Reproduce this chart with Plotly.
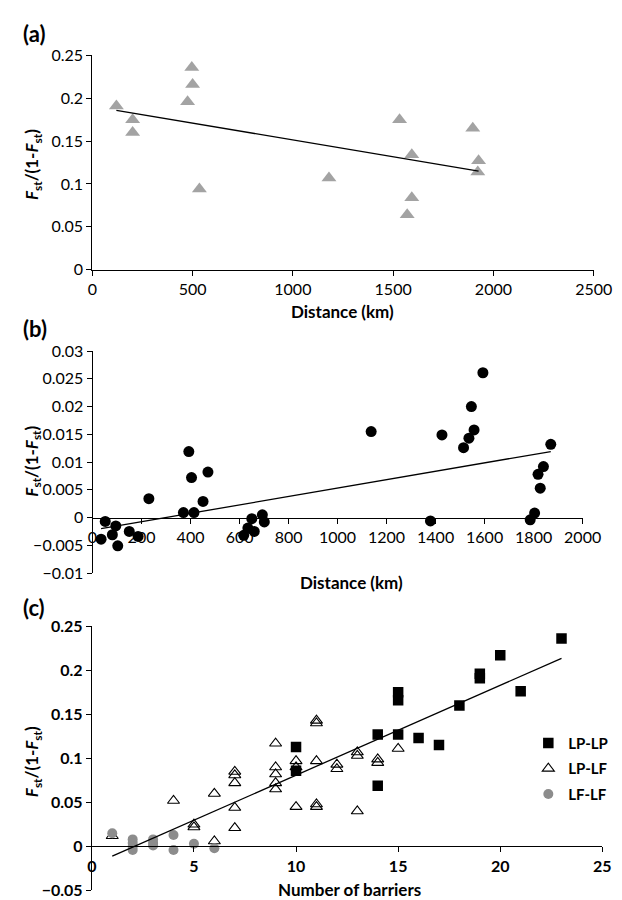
import plotly.graph_objects as go

# ---------------- data ----------------
# panel (a)
a_dist = [120, 201, 201, 475, 496, 500, 534, 1180, 1532, 1570, 1593, 1593, 1897, 1922, 1926]
a_fst = [0.191, 0.175, 0.160, 0.196, 0.236, 0.216, 0.094, 0.107, 0.175, 0.064, 0.084, 0.134, 0.165, 0.114, 0.127]
a_trend_x = [120, 1926]
a_trend_y = [0.186, 0.115]
a_xticks = [0, 500, 1000, 1500, 2000, 2500]
a_yticks = [0, 0.05, 0.1, 0.15, 0.2, 0.25]

# panel (b)
b_dist = [35, 52, 81, 95, 103, 150, 186, 230, 371, 393, 404, 414, 451, 471,
          617, 634, 650, 660, 693, 701, 1137, 1379, 1426, 1514, 1536, 1546, 1557,
          1593, 1786, 1804, 1818, 1827, 1840, 1870]
b_fst = [-0.0039, -0.0007, -0.0031, -0.0015, -0.0051, -0.0025, -0.0034, 0.0034,
         0.0009, 0.0119, 0.0072, 0.0009, 0.0029, 0.0082, -0.0032, -0.0019, -0.0002,
         -0.0025, 0.0005, -0.0008, 0.0155, -0.0006, 0.0149, 0.0126, 0.0143, 0.0200,
         0.0158, 0.0261, -0.0004, 0.0008, 0.0078, 0.0053, 0.0092, 0.0132]
b_trend_x = [35, 1870]
b_trend_y = [-0.0020, 0.0119]
b_xticks = [0, 200, 400, 600, 800, 1000, 1200, 1400, 1600, 1800, 2000]
b_yticks = [-0.01, -0.005, 0, 0.005, 0.01, 0.015, 0.02, 0.025, 0.03]

# panel (c)
lplp_x = [10, 10, 14, 14, 15, 15, 15, 16, 17, 18, 19, 19, 20, 21, 23]
lplp_y = [0.113, 0.086, 0.127, 0.069, 0.127, 0.175, 0.166, 0.123, 0.115, 0.160,
          0.196, 0.191, 0.217, 0.176, 0.236]
lplf_x = [1, 4, 5, 5, 6, 6, 7, 7, 7, 7, 7, 9, 9, 9, 9, 9, 10, 10, 10,
          11, 11, 11, 11, 11, 12, 12, 13, 13, 13, 14, 14, 15]
lplf_y = [0.012, 0.052, 0.025, 0.022, 0.060, 0.006, 0.085, 0.081, 0.072, 0.044, 0.021,
          0.117, 0.090, 0.082, 0.072, 0.065, 0.097, 0.090, 0.045,
          0.143, 0.140, 0.097, 0.048, 0.045, 0.093, 0.088, 0.107, 0.103, 0.040,
          0.099, 0.095, 0.111]
lflf_x = [1, 2, 2, 2, 2, 3, 3, 3, 4, 4, 5, 6]
lflf_y = [0.015, 0.008, 0.004, 0.000, -0.004, 0.008, 0.004, 0.001, 0.013, -0.004, 0.003, -0.002]
c_trend_x = [1, 23]
c_trend_y = [-0.011, 0.2135]
c_xticks = [0, 5, 10, 15, 20, 25]
c_yticks = [-0.05, 0, 0.05, 0.1, 0.15, 0.2, 0.25]
series_names = ["LP-LP", "LP-LF", "LF-LF"]

# ---------------- layout helpers ----------------
W, H = 622, 900
FONT = "Lato"


def fx(p):
    return p / W


def fy(p):
    return 1 - p / H


def fmt(v):
    s = ("%g" % v)
    return s.replace("-", "\u2212")


GREY_A = "#a3a3a3"
GREY_C = "#8c8c8c"

fig = go.Figure()

# (a)
fig.add_trace(go.Scatter(x=a_dist, y=a_fst, mode="markers", xaxis="x", yaxis="y",
                         marker=dict(symbol="triangle-up", size=13, color=GREY_A),
                         showlegend=False))
fig.add_trace(go.Scatter(x=a_trend_x, y=a_trend_y, mode="lines", xaxis="x", yaxis="y",
                         line=dict(color="black", width=1.3), showlegend=False))

# (b)
fig.add_trace(go.Scatter(x=b_dist, y=b_fst, mode="markers", xaxis="x2", yaxis="y2",
                         marker=dict(symbol="circle", size=11, color="black"),
                         showlegend=False))
fig.add_trace(go.Scatter(x=b_trend_x, y=b_trend_y, mode="lines", xaxis="x2", yaxis="y2",
                         line=dict(color="black", width=1.3), showlegend=False))

# (c)
fig.add_trace(go.Scatter(x=lplf_x, y=lplf_y, mode="markers", xaxis="x3", yaxis="y3",
                         name=series_names[1], legendgroup="g2", legendrank=2,
                         marker=dict(symbol="triangle-up-open", size=10.5, color="black",
                                     line=dict(width=1.1, color="black"))))
fig.add_trace(go.Scatter(x=lplp_x, y=lplp_y, mode="markers", xaxis="x3", yaxis="y3",
                         name=series_names[0], legendgroup="g1", legendrank=1,
                         marker=dict(symbol="square", size=10.5, color="black")))
fig.add_trace(go.Scatter(x=lflf_x, y=lflf_y, mode="markers", xaxis="x3", yaxis="y3",
                         name=series_names[2], legendgroup="g3", legendrank=3,
                         marker=dict(symbol="circle", size=10, color=GREY_C)))
fig.add_trace(go.Scatter(x=c_trend_x, y=c_trend_y, mode="lines", xaxis="x3", yaxis="y3",
                         line=dict(color="black", width=1.3), showlegend=False))

TS = 16
tick_norm = dict(family=FONT, size=TS, color="black")
tick_bold = dict(family=FONT, size=TS, color="black", weight="bold")

common = dict(showline=True, linecolor="black", linewidth=1, ticks="outside",
              ticklen=5, tickcolor="black", showgrid=False, zeroline=False)

fig.update_layout(
    width=W, height=H,
    margin=dict(l=0, r=0, t=0, b=0),
    paper_bgcolor="white", plot_bgcolor="white",
    font=dict(family=FONT, color="black"),
    xaxis=dict(domain=[fx(82.5), fx(604)], range=[0, 2500], anchor="y",
               tickvals=a_xticks, ticktext=[fmt(v) for v in a_xticks],
               tickfont=tick_norm, **common),
    yaxis=dict(domain=[fy(257), fy(38.3)], range=[0, 0.25], anchor="x",
               tickvals=a_yticks, ticktext=[fmt(v) for v in a_yticks],
               tickfont=tick_norm, **common),
    xaxis2=dict(domain=[fx(82.7), fx(592.5)], range=[0, 2000], anchor="free",
                position=fy(510.3),
                tickvals=b_xticks, ticktext=[fmt(v) for v in b_xticks],
                tickfont=tick_norm, **common),
    yaxis2=dict(domain=[fy(567), fy(340.3)], range=[-0.01, 0.03], anchor="x2",
                tickvals=b_yticks, ticktext=[fmt(v) for v in b_yticks],
                tickfont=tick_norm, **common),
    xaxis3=dict(domain=[fx(82), fx(613)], range=[0, 25], anchor="free",
                position=fy(846.3),
                tickvals=c_xticks, ticktext=[fmt(v) for v in c_xticks],
                tickfont=tick_bold, **common),
    yaxis3=dict(domain=[fy(891.3), fy(621.3)], range=[-0.05, 0.25], anchor="x3",
                tickvals=c_yticks, ticktext=[fmt(v) for v in c_yticks],
                tickfont=tick_bold, **common),
    legend=dict(x=fx(536), y=fy(724), xanchor="left", yanchor="top",
                font=dict(family=FONT, size=15, color="black", weight="bold"),
                tracegroupgap=3, bgcolor="rgba(0,0,0,0)", itemwidth=30),
)

ytitle = "<b><i>F</i><sub>st</sub>/(1-<i>F</i><sub>st</sub>)</b>"
ann = []
for lab, ypx in [("(a)", 16), ("(b)", 317), ("(c)", 602)]:
    ann.append(dict(text="<b>%s</b>" % lab, x=fx(8), y=fy(ypx), xref="paper", yref="paper",
                    xanchor="left", yanchor="middle", showarrow=False,
                    font=dict(family=FONT, size=22, color="black")))
for ypx in [150, 453, 760]:
    ann.append(dict(text=ytitle, x=fx(21), y=fy(ypx), xref="paper", yref="paper",
                    xanchor="center", yanchor="middle", showarrow=False, textangle=-90,
                    font=dict(family=FONT, size=17, color="black")))
for txt, xpx, ypx in [("Distance (km)", 343, 300), ("Distance (km)", 352, 577),
                      ("Number of barriers", 350, 890)]:
    ann.append(dict(text="<b>%s</b>" % txt, x=fx(xpx), y=fy(ypx), xref="paper", yref="paper",
                    xanchor="center", yanchor="middle", showarrow=False,
                    font=dict(family=FONT, size=17, color="black")))
fig.update_layout(annotations=ann)

fig.write_html("out.html")
